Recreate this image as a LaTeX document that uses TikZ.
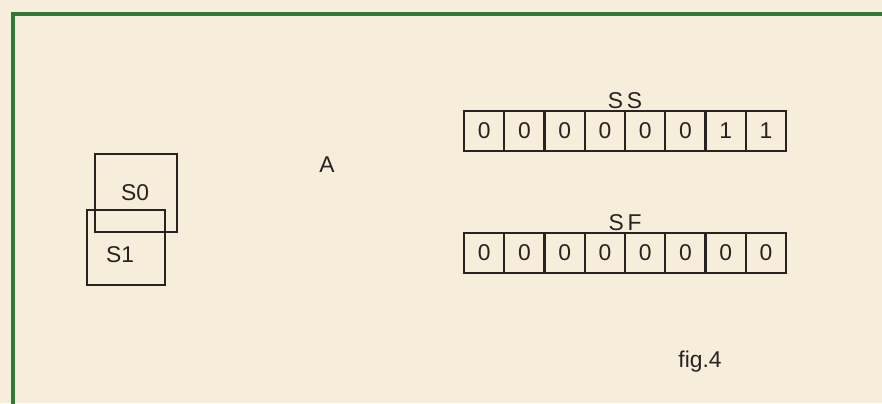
\documentclass[tikz,border=0pt]{standalone}
\usepackage{fontspec}
\setmainfont{Liberation Sans}
\usepackage{xcolor}
\usepackage{tikz}
\usetikzlibrary{positioning,calc}
\definecolor{paper}{HTML}{F6EDDB}
\definecolor{frame}{HTML}{2F7A35}
\definecolor{ink}{HTML}{262320}

\begin{document}
\begin{tikzpicture}[x=0.02cm,y=-0.02cm,
    txt/.style={font=\fontsize{13}{15}\selectfont,text=ink,inner sep=0pt},
    segbox/.style={draw=ink,line width=1.3pt,inner sep=0pt},
    bitcell/.style={draw=ink,line width=1.4pt,minimum width=0.805cm,
                    minimum height=0.8cm,inner sep=0pt,
                    font=\fontsize{13}{15}\selectfont,text=ink}
]
% paper and frame
\fill[paper] (0,0) rectangle (882,403);
\useasboundingbox (0,0) rectangle (882,403);
\draw[frame,line width=2.2pt] (13,405) -- (13,14) -- (884,14);

% overlapping segments
\node[segbox,minimum width=1.64cm,minimum height=1.56cm] (s0) at (136,193) {};
\node[segbox,minimum width=1.56cm,minimum height=1.5cm] (s1) at (126,247.5) {};
\node[txt] (s0lbl) at (135,193) {S0};
\node[txt] (s1lbl) at (120,255) {S1};

\node[txt] (a) at (327,165) {A};

% registers
\foreach \b [count=\i] in {0,0,0,0,0,0,1,1}
  \node[bitcell] (ss\i) at ({464+40.25*(\i-0.5)},131) {\b};
\foreach \b [count=\i] in {0,0,0,0,0,0,0,0}
  \node[bitcell] (sf\i) at ({464+40.25*(\i-0.5)},253) {\b};
\node[txt,anchor=south] (sslbl) at ($(ss4.north)!0.5!(ss5.north)+(0,-1)$) {S\,S};
\node[txt,anchor=south] (sflbl) at ($(sf4.north)!0.5!(sf5.north)+(0,-1)$) {S\,F};

\node[txt] (fig) at (700,362) {fig.4};
\end{tikzpicture}
\end{document}
